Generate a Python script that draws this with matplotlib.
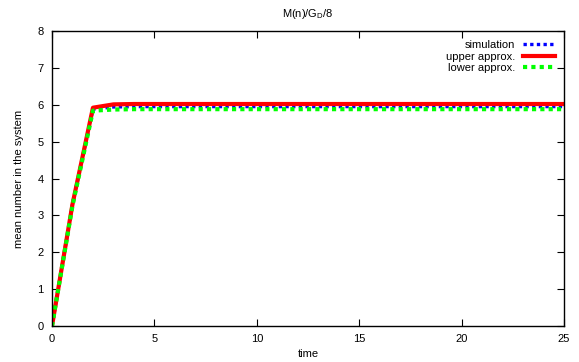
import matplotlib
matplotlib.use("Agg")
import matplotlib.pyplot as plt

plt.rcParams['font.family'] = ['Liberation Sans', 'DejaVu Sans']
plt.rcParams['font.size'] = 8

# mean number in the system over time
t = list(range(0, 26))
sim = [0, 3.3, 5.88, 5.94] + [5.95] * 22
upper = [0, 3.3, 5.92, 6.01] + [6.02] * 22
lower = [0, 3.26, 5.84, 5.87] + [5.88] * 22

fig = plt.figure(figsize=(5.79, 3.62), dpi=100)
ax = fig.add_axes([0.0898, 0.0994, 0.8843, 0.8150])

ax.plot(t, sim, color='#0000ff', lw=2.4, ls=(0, (1, 1)), label='simulation')
ax.plot(t, upper, color='#ff0000', lw=3.0, ls='-', label='upper approx.')
ax.plot(t, lower, color='#00ff00', lw=3.0, ls=(0, (1, 1)), label='lower approx.')

ax.set_xlim(0, 25)
ax.set_ylim(0, 8)
ax.set_xticks(range(0, 26, 5))
ax.set_yticks(range(0, 9))
ax.tick_params(direction='in', length=5, width=0.8, top=True, right=True,
               labelsize=8, pad=6)
for s in ax.spines.values():
    s.set_linewidth(1.0)

ax.set_title('M(n)/G$_\\mathregular{D}$/8', fontsize=8, pad=10)
ax.set_xlabel('time', fontsize=8, labelpad=3)
ax.set_ylabel('mean number in the system', fontsize=8, labelpad=10)

leg = ax.legend(loc='upper right', frameon=False, markerfirst=False,
                handlelength=2.9, handletextpad=0.7, labelspacing=0.15,
                borderaxespad=0.4, fontsize=8)

fig.savefig('out.png', dpi=100)
